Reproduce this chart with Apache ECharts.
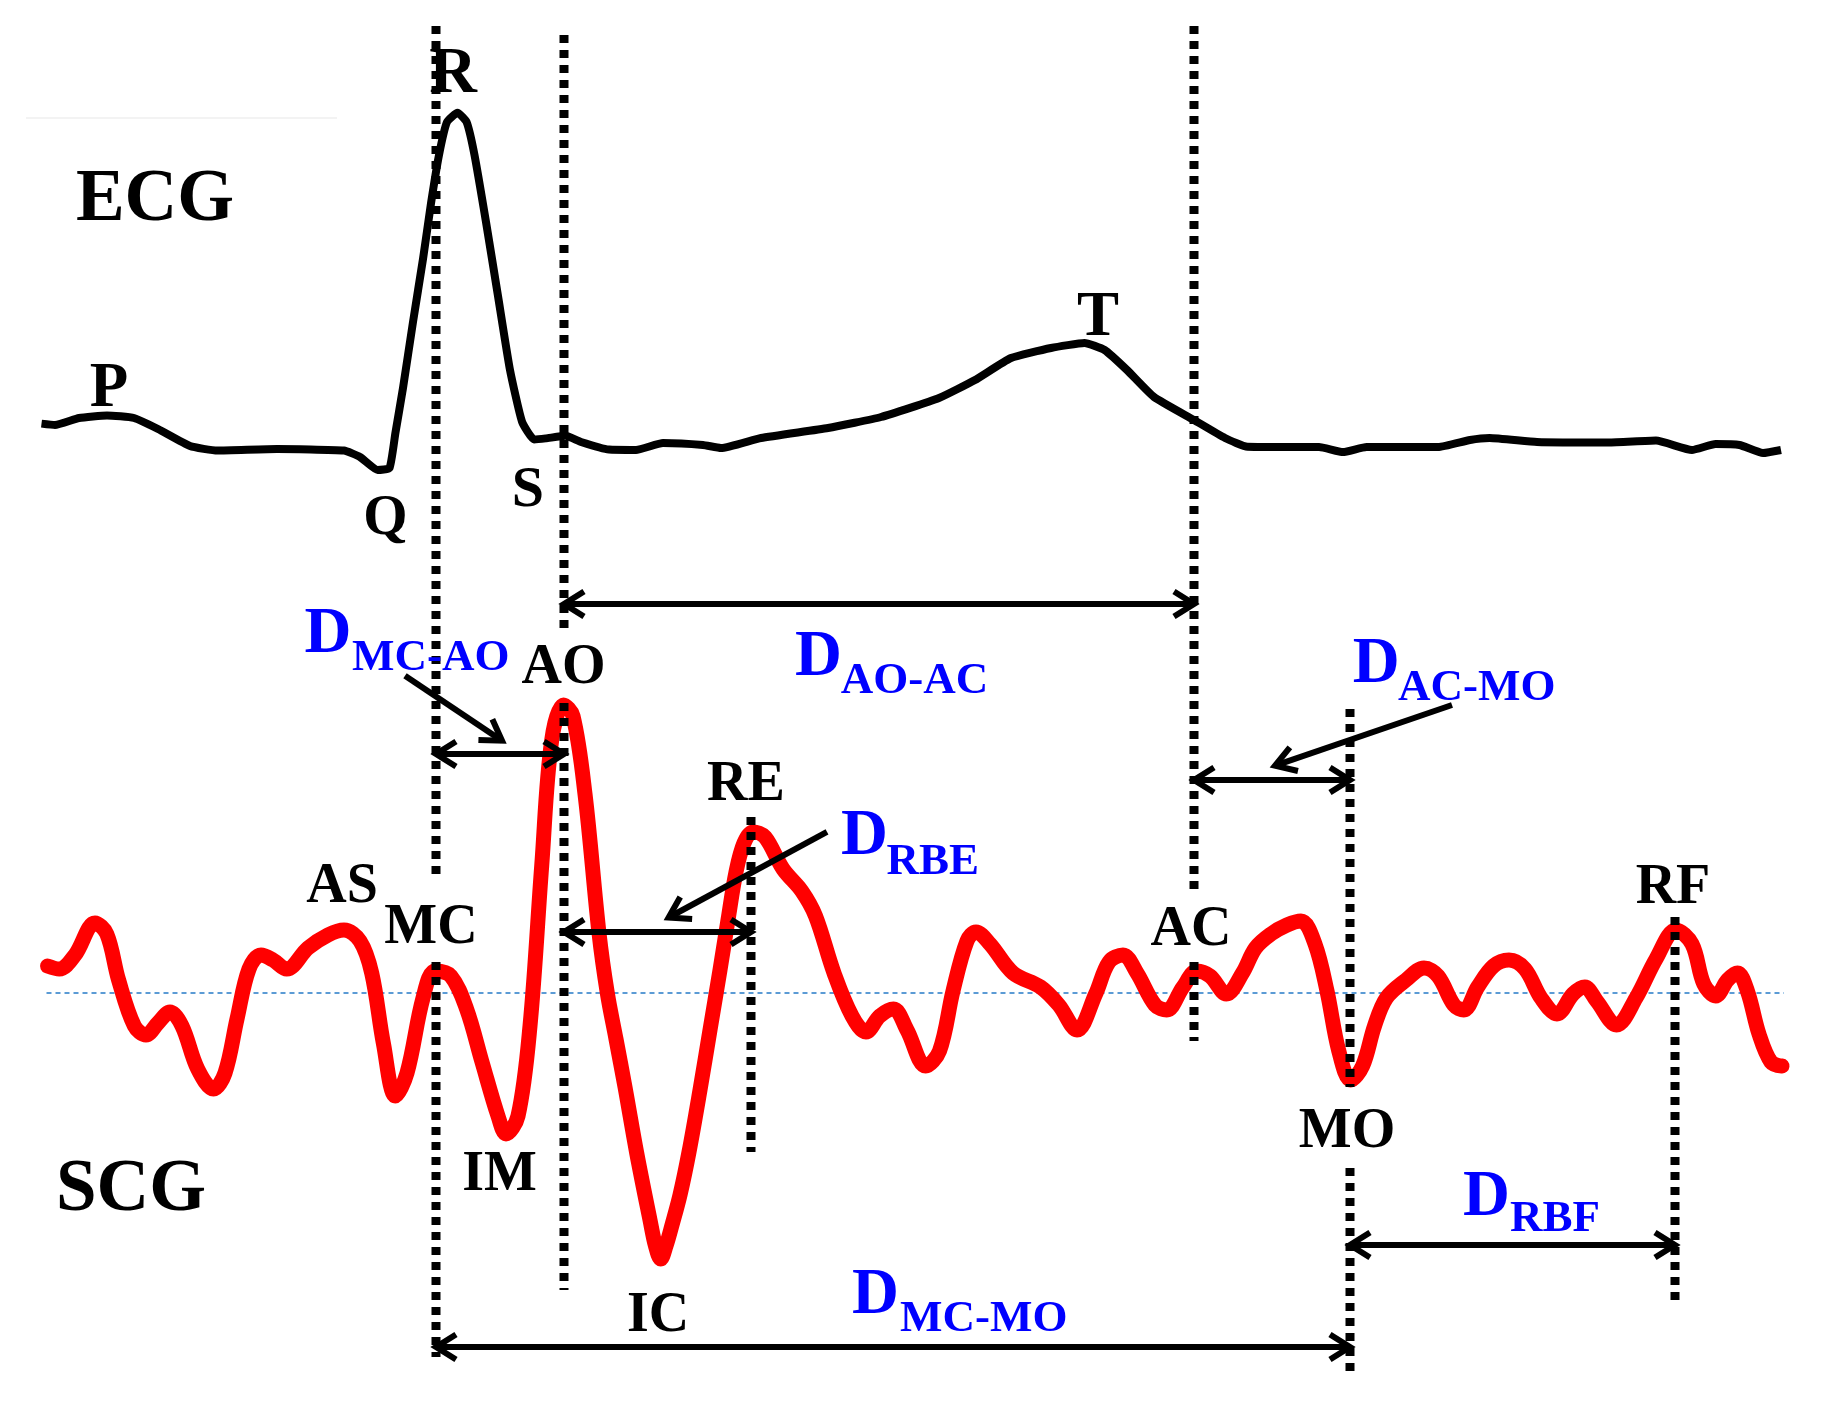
<!DOCTYPE html>
<html>
<head>
<meta charset="utf-8">
<script src="https://cdn.jsdelivr.net/npm/echarts@6/dist/echarts.min.js"></script>
<style>
html,body{margin:0;padding:0;background:#ffffff;}
#chart{width:1822px;height:1410px;}
</style>
</head>
<body>
<div id="chart"></div>
<script>
// ---------------- DATA ----------------
// time axis: sample index (fs = 2 kHz)
const ecgSample = [1.5,15,39,67,94,118,150,177.5,237,304,320,337.6,349.5,355.4,363,373,383,391,399,407,417.5,426.6,434.5,446,458,470,482,494,505.7,525.4,541,569,596,623,663,681,721,788,841,899,935,971,1011,1044.5,1064.6,1087,1114,1154,1185,1207.5,1239,1279,1303,1326.6,1398,1430,1449.6,1497,1568.6,1616,1652,1675.6,1699.5,1723,1741];
// ECG amplitude (mV)
const ecgMv = [0.107,0.10,0.135,0.148,0.135,0.08,-0.005,-0.028,-0.02,-0.028,-0.06,-0.125,-0.115,0.06,0.285,0.615,0.93,1.208,1.45,1.615,1.661,1.615,1.45,1.115,0.745,0.375,0.117,0.028,0.033,0.046,0.015,-0.023,-0.025,0.01,0,-0.015,0.035,0.085,0.14,0.235,0.325,0.435,0.485,0.51,0.475,0.375,0.24,0.125,0.035,-0.009,-0.01,-0.01,-0.035,-0.01,-0.01,0.025,0.035,0.015,0.012,0.022,-0.025,0.005,0,-0.04,-0.025];

const scgSample = [7.5,19.3,35,55,66.8,78.6,94.4,106,118,130,142,157.7,173.5,185,197,209,221,233,246.7,268,288,304,320,331.7,343.5,355.4,367,383,395,410.8,426.6,442,458,466,478,490,501.7,511.6,523.5,533,545,559,567.3,576,585,596.7,610,615.5,620.7,626,632,640,649,660,670,680,688,696,704,713,725,743,761.7,775.5,794,812,826,839.8,853.5,867,885.7,899.5,913,927,936,950,973,1000.5,1018.8,1037,1055.6,1069,1083,1097,1115,1126.7,1143,1156.6,1170,1186.4,1202.5,1215.5,1231,1247,1261,1275,1287,1298.8,1310.7,1322.6,1334.5,1346.4,1366,1384,1398,1413.9,1423.8,1437.7,1453.5,1469,1485,1501,1517,1533,1544.8,1556.7,1576.5,1596,1616,1636,1652,1663.8,1675.7,1687.6,1697.5,1707.4,1719,1731,1742];
// SCG amplitude (mg)
const scgMg = [2.7,2.4,3.8,7.0,5.9,1.3,-3.3,-4.2,-3.0,-1.9,-3.3,-7.6,-9.6,-8.0,-2.6,2.4,3.8,3.3,2.4,4.5,5.8,6.3,5.2,2.0,-5.1,-10.3,-8.0,-0.5,2.2,1.7,-1.6,-6.9,-12.3,-14.1,-12.3,-3.3,12.7,25.2,28.8,27.7,19.9,6.0,0,-4.6,-9.4,-16.0,-22.7,-25.3,-26.6,-25.3,-23.2,-20.2,-15.9,-9.7,-3.7,2.3,7.3,12.1,15.0,16.1,15.6,12.4,10.2,7.7,2.0,-2.3,-3.9,-2.3,-1.6,-3.7,-7.3,-5.8,0.2,5.2,6.1,4.9,2.0,0.6,-1.2,-3.7,-0.1,3.1,3.8,2.0,-1.2,-1.7,0.6,2.2,1.7,-0.1,2.0,4.5,5.9,6.8,7.2,4.9,0.2,-5.8,-8.7,-7.3,-3.3,-0.5,1.3,2.5,1.7,-1.2,-1.7,0.6,2.7,3.3,2.4,-0.5,-2.1,-0.1,0.6,-0.8,-3.2,-0.5,3.4,6.3,4.9,0.9,-0.3,1.3,2.0,0.2,-4.1,-6.9,-7.3];

// fiducial points (sample index)
const fiducialNames = ['MC','AO','RE','AC','MO','RF'];
const fiducialSample = [396,524,711,1154,1310,1635];

// intervals
const intervalNames = ['MC-AO','AO-AC','RBE','AC-MO','RBF','MC-MO'];
const intervalStart = ['MC','AO','AO','AC','MO','MC'];
const intervalEnd   = ['AO','AC','RE','MO','RF','MO'];

// point labels
const waveLabels = ['P','Q','R','S','T'];
const scgLabels = ['AS','MC','IM','AO','IC','RE','AC','MO','RF'];
const signalTitles = ['ECG','SCG'];

// ---------------- LAYOUT (annotation placement; layout axis = canvas rows) ----------------
const layout = {
  vlines: {
    MC: [[26,880],[962,1357]],
    AO: [[35,628],[703,1290]],
    RE: [[817,1152]],
    AC: [[26,891],[962,1041]],
    MO: [[709,1087],[1168,1377]],
    RF: [[917,1301]]
  },
  intervalRow: [754,604,932,780,1245,1347],
  intervalText: [
    {d:[264.5,631.5], s:[312,654]},
    {d:[755,654], s:[800.7,677]},
    {d:[801,833.5], s:[846.6,858]},
    {d:[1312.7,661], s:[1358,684]},
    {d:[1423,1194], s:[1470,1215]},
    {d:[812,1292.5], s:[860,1315]}
  ],
  pointers: [
    [365,675.7,462,740.7],
    [787,831.8,628.6,917.5],
    [1412,705,1235,765.7]
  ],
  titles: [[115,197],[91,1187]],
  wave: [[69,385.7,63],[345.5,515,57],[413,71,66],[488,487.5,58],[1058,315,63]],
  scg: [[302,884],[391,925],[459.5,1171.5],[523.5,665],[618,1312.5],[706,782],[1151,927],[1307,1129],[1633,884.5]],
  textShift: 4,
  faintRule: [[-14,118],[297,118]]
};

// ---------------- BUILD ----------------
const FONT = "'Liberation Serif','Times New Roman',Times,serif";
function zip(a,b){const n=Math.min(a.length,b.length),r=[];for(let i=0;i<n;i++)r.push([a[i],b[i]]);return r;}

const vlineData = [];
fiducialNames.forEach((n,i)=>{ layout.vlines[n].forEach(s=>vlineData.push([fiducialSample[i], s[0], s[1]])); });

const arrowData = intervalNames.map((n,i)=>[
  fiducialSample[fiducialNames.indexOf(intervalStart[i])], layout.intervalRow[i],
  fiducialSample[fiducialNames.indexOf(intervalEnd[i])], layout.intervalRow[i], 1]);
layout.pointers.forEach(p=>arrowData.push([p[0],p[1],p[2],p[3],0]));

const textItems = [];
const sh = layout.textShift;
signalTitles.forEach((t,i)=>textItems.push({x:layout.titles[i][0],y:layout.titles[i][1]+sh,text:t,size:73,color:'#000',align:'center'}));
waveLabels.forEach((t,i)=>textItems.push({x:layout.wave[i][0],y:layout.wave[i][1]+sh,text:t,size:layout.wave[i][2],color:'#000',align:'center'}));
scgLabels.forEach((t,i)=>textItems.push({x:layout.scg[i][0],y:layout.scg[i][1]+sh,text:t,size:56,color:'#000',align:'center'}));
intervalNames.forEach((t,i)=>{
  const L = layout.intervalText[i];
  textItems.push({x:L.d[0],y:L.d[1]+sh,text:'D',size:65,color:'#0000ff',align:'left'});
  textItems.push({x:L.s[0],y:L.s[1]+sh,text:t,size:45,color:'#0000ff',align:'left'});
});

const chart = echarts.init(document.getElementById('chart'), null, {renderer:'canvas'});
chart.setOption({
  animation:false,
  backgroundColor:'#ffffff',
  grid:{left:0,right:0,top:0,bottom:0,containLabel:false},
  xAxis:{type:'value',min:-40,max:1782,show:false},
  yAxis:[
    {type:'value',min:-4.825,max:2.225,show:false},   // ECG mV
    {type:'value',min:-41.7,max:99.3,show:false},     // SCG mg
    {type:'value',min:0,max:1410,inverse:true,show:false} // layout rows
  ],
  series:[
    {type:'line',yAxisIndex:2,data:layout.faintRule,symbol:'none',silent:true,z:1,
     lineStyle:{color:'#f3f3f3',width:2}},
    {type:'line',yAxisIndex:1,data:[[scgSample[0]-1,0],[scgSample[scgSample.length-1]+2,0]],symbol:'none',silent:true,z:1,
     lineStyle:{color:'#5b9bd5',width:2,type:[5,4]}},
    {type:'line',yAxisIndex:1,data:zip(scgSample,scgMg),symbol:'none',smooth:0.35,silent:true,z:2,
     lineStyle:{color:'#ff0000',width:15,cap:'round',join:'round'}},
    {type:'line',yAxisIndex:0,data:zip(ecgSample,ecgMv),symbol:'none',smooth:0.15,silent:true,z:3,
     lineStyle:{color:'#000000',width:8,join:'round'}},
    {type:'custom',yAxisIndex:2,data:vlineData,silent:true,z:4,clip:false,
     encode:{x:0,y:[1,2]},
     renderItem:function(params,api){
       const a=api.coord([api.value(0),api.value(1)]);
       const b=api.coord([api.value(0),api.value(2)]);
       const x=Math.round(a[0]);
       return {type:'line',shape:{x1:x,y1:a[1],x2:x,y2:b[1]},
         style:{stroke:'#000',lineWidth:9,lineDash:[8,7],lineCap:'butt'}};
     }},
    {type:'custom',yAxisIndex:2,data:arrowData,silent:true,z:5,clip:false,
     encode:{x:[0,2],y:[1,3]},
     renderItem:function(params,api){
       const a=api.coord([api.value(0),api.value(1)]);
       const b=api.coord([api.value(2),api.value(3)]);
       const both=api.value(4);
       const dx=b[0]-a[0],dy=b[1]-a[1],L=Math.hypot(dx,dy),ux=dx/L,uy=dy/L,nx=-uy,ny=ux;
       const back=20,half=12.5;
       const head=(t,sx,sy)=>({type:'polyline',shape:{points:[
           [t[0]-sx*back+nx*half,t[1]-sy*back+ny*half],[t[0],t[1]],[t[0]-sx*back-nx*half,t[1]-sy*back-ny*half]]},
         style:{stroke:'#000',lineWidth:6,fill:'none',lineJoin:'miter'}});
       const children=[{type:'line',shape:{x1:a[0],y1:a[1],x2:b[0],y2:b[1]},style:{stroke:'#000',lineWidth:6}},head(b,ux,uy)];
       if(both) children.push(head(a,-ux,-uy));
       return {type:'group',children:children};
     }},
    {type:'custom',yAxisIndex:2,data:textItems.map(t=>[t.x,t.y]),silent:true,z:6,clip:false,
     renderItem:function(params,api){
       const t=textItems[params.dataIndex];
       const p=api.coord([api.value(0),api.value(1)]);
       return {type:'text',x:p[0],y:p[1],style:{text:t.text,fill:t.color,fontSize:t.size,fontFamily:FONT,fontWeight:'bold',align:t.align,verticalAlign:'middle'}};
     }}
  ]
});
</script>
</body>
</html>
